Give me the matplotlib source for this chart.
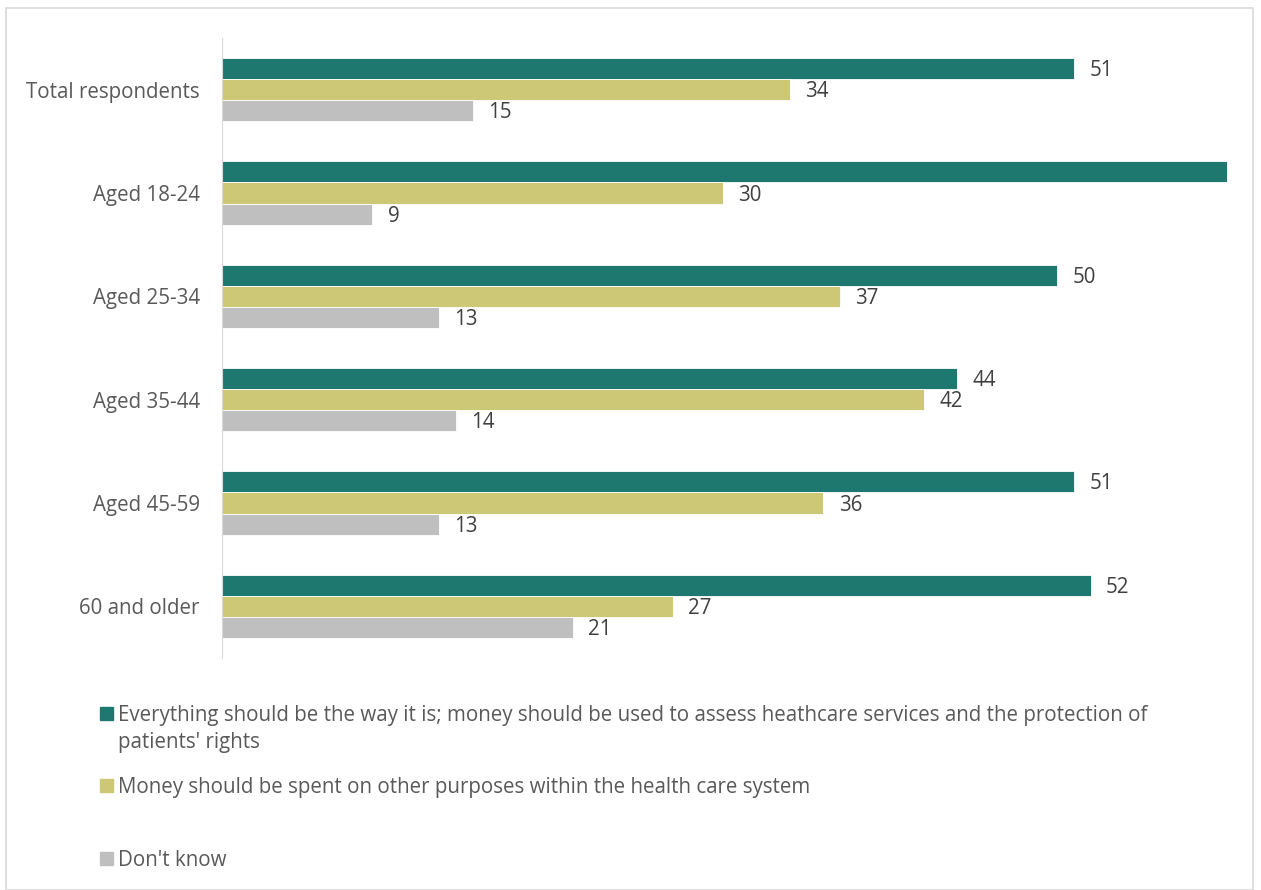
import numpy as np
import matplotlib.pyplot as plt
from matplotlib.patches import Rectangle

plt.rcParams['font.family'] = ['Open Sans', 'DejaVu Sans']

groups = ['Total respondents', 'Aged 18-24', 'Aged 25-34', 'Aged 35-44', 'Aged 45-59', '60 and older']
keep = [51, 61, 50, 44, 51, 52]
other = [34, 30, 37, 42, 36, 27]
dont_know = [15, 9, 13, 14, 13, 21]
series_labels = [
    "Everything should be the way it is; money should be used to assess heathcare services and the protection of\npatients' rights",
    "Money should be spent on other purposes within the health care system",
    "Don't know",
]
colors = ['#1f7870', '#cdc875', '#bfbfbf']
text_col = '#595959'
fs = 14.8

fig = plt.figure(figsize=(12.61, 8.9), dpi=100)
fig.patches.append(Rectangle((6 / 1261, 0), 1247 / 1261, 882 / 890, transform=fig.transFigure,
                             fill=False, edgecolor='#d9d9d9', linewidth=1.2))
ax = fig.add_axes([222 / 1261, 1 - 658 / 890, 1005 / 1261, 620 / 890])

xmax = 60.15
y = np.arange(len(groups))
h = 0.205
for k, (vals, c) in enumerate(zip([keep, other, dont_know], colors)):
    pos = y + (k - 1) * h
    ax.barh(pos, vals, height=h, color=c, edgecolor='white', linewidth=0.6)
    for p, v in zip(pos, vals):
        if v > xmax:
            continue  # bar runs off the plot area, no room for its label
        ax.annotate(str(v), (v, p), xytext=(11, -1.5), textcoords='offset points',
                    va='center', ha='left', fontsize=fs, color='#404040')

ax.set_xlim(0, xmax)
ax.set_ylim(len(groups) - 0.5, -0.5)
ax.set_yticks(y)
ax.set_yticklabels(groups, fontsize=fs, color=text_col)
ax.tick_params(axis='y', length=0, pad=16)
ax.set_xticks([])
for s in ['top', 'right', 'bottom']:
    ax.spines[s].set_visible(False)
ax.spines['left'].set_color('#d9d9d9')

# legend drawn by hand to keep the uneven spacing
leg_rows = [713, 785, 858]
for lab, c, ry in zip(series_labels, colors, leg_rows):
    fig.patches.append(Rectangle((100 / 1261, 1 - (ry + 7) / 890), 13 / 1261, 13 / 890,
                                 transform=fig.transFigure, color=c))
    fig.text(118 / 1261, 1 - (ry - 8) / 890, lab, fontsize=fs, color=text_col,
             va='top', ha='left', linespacing=1.35)

fig.savefig('out.png', dpi=100)
